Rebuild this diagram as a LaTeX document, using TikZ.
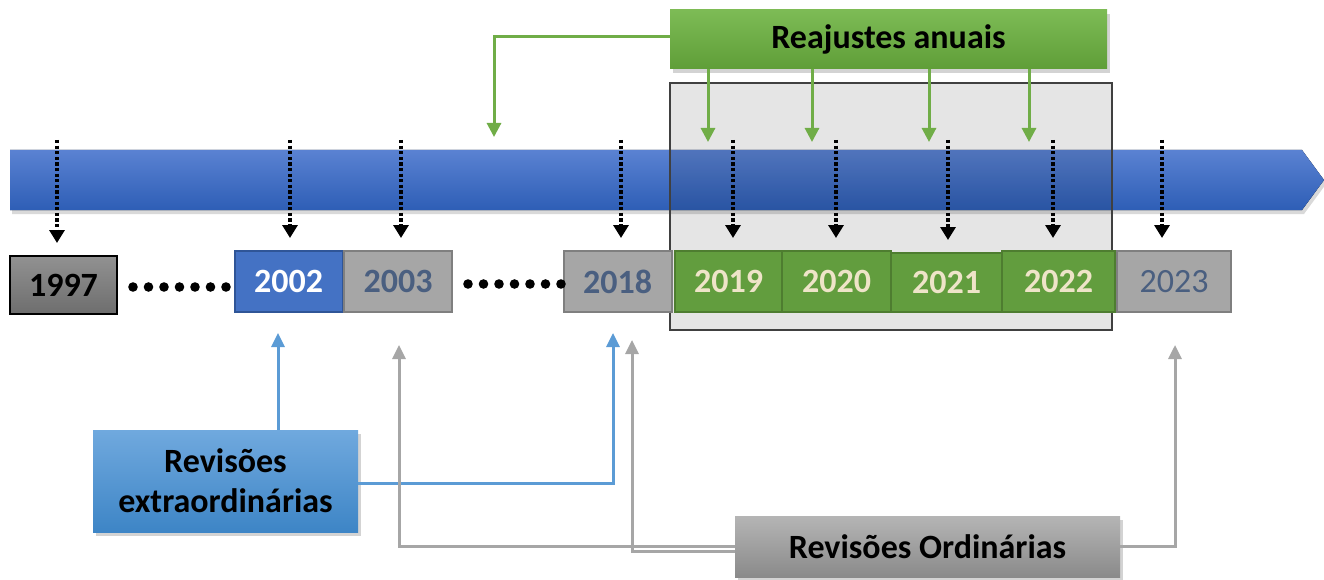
\documentclass[tikz,border=0pt]{standalone}
\usepackage{fontspec}
\setmainfont{Carlito}
\usetikzlibrary{arrows.meta,shadows,calc}
\definecolor{bandA}{HTML}{5A82D2}
\definecolor{bandB}{HTML}{2E5EB6}
\definecolor{yblue}{HTML}{4472C4}
\definecolor{yblueD}{HTML}{2F5597}
\definecolor{ygray}{HTML}{A6A6A6}
\definecolor{ygrayD}{HTML}{7F7F7F}
\definecolor{slate}{HTML}{4A5F80}
\definecolor{ygreen}{HTML}{629D3E}
\definecolor{ygreenD}{HTML}{4E7D30}
\definecolor{cream}{HTML}{EEE4C8}
\definecolor{greenA}{HTML}{7DBB55}
\definecolor{greenB}{HTML}{5F9E38}
\definecolor{garrow}{HTML}{70AD47}
\definecolor{lblueA}{HTML}{70A9DE}
\definecolor{lblueB}{HTML}{3D85C6}
\definecolor{barrow}{HTML}{5B9BD5}
\definecolor{grayA}{HTML}{B5B5B5}
\definecolor{grayB}{HTML}{8A8A8A}
\definecolor{garr}{HTML}{A6A6A6}
\tikzset{
  yrbox/.style={draw, line width=2pt, minimum width=108pt, minimum height=61pt, inner sep=0pt,
    font=\fontsize{34}{34}\selectfont\bfseries},
  grayyr/.style={yrbox, fill=ygray, draw=ygrayD, text=slate},
  greenyr/.style={yrbox, fill=ygreen, draw=ygreenD, text=cream},
  dotarrow/.style={line width=3.2pt, dash pattern=on 3.2pt off 2.4pt, -{Triangle[width=15pt,length=13pt]}},
  garw/.style={draw=garrow, line width=3pt, -{Triangle[width=14pt,length=14pt,fill=garrow]}},
  barw/.style={draw=barrow, line width=3pt, -{Triangle[width=13pt,length=14pt,fill=barrow]}},
  grw/.style={draw=garr, line width=3pt, -{Triangle[width=13pt,length=14pt,fill=garr]}},
  lbl/.style={inner sep=0pt, font=\fontsize{34}{40}\selectfont\bfseries, align=center,
    drop shadow={opacity=0.35, shadow xshift=3pt, shadow yshift=-4pt}},
}
\begin{document}
\begin{tikzpicture}[x=1pt,y=-1pt]
\useasboundingbox (0,0) rectangle (1324,580);
% timeline band
\fill[top color=bandA, bottom color=bandB, drop shadow={opacity=0.3, shadow xshift=2pt, shadow yshift=-4pt}]
  (10,150) -- (1302,150) -- (1324,180) -- (1302,210) -- (10,210) -- cycle;
% translucent highlight
\draw[fill=black, fill opacity=0.1, draw=black!75, line width=1.6pt] (670,83) rectangle (1112,330);
% year boxes
\node[yrbox, draw=black, top color=black!43, bottom color=black!57, text=black, minimum width=107pt, minimum height=58pt] (y1997) at (63.5,285) {1997};
\node[yrbox, fill=yblue, draw=yblueD, text=white] (y2002) at (288.5,281.5) {2002};
\node[grayyr] (y2003) at (398,281.5) {2003};
\node[grayyr] (y2018) at (617.5,281.5) {2018};
\node[greenyr, minimum width=107pt] (y2019) at (728.5,281.5) {2019};
\node[greenyr, minimum width=109pt] (y2020) at (836.5,281.5) {2020};
\node[greenyr, minimum width=111pt, minimum height=59pt] (y2021) at (946.5,282.5) {2021};
\node[greenyr, minimum width=113pt] (y2022) at (1058.5,281.5) {2022};
\node[grayyr, minimum width=114pt, font=\fontsize{34}{34}\selectfont] (y2023) at (1174,281.5) {2023};
% ellipsis dots
\foreach \x in {133,148.5,164,179.5,195,210.5,226} \fill (\x,287) circle (4.8);
\foreach \x in {468,483.5,499,514.5,530,545.5,561} \fill (\x,284) circle (4.8);
% dotted arrows
\foreach \n/\x in {y1997/57,y2002/290,y2003/401,y2018/621,y2019/733,y2020/836,y2021/948,y2022/1053,y2023/1162}{
  \coordinate (t\n) at (\x,140);
  \draw[dotarrow] (t\n) -- ([yshift=12pt]t\n |- \n.north);
}
% Reajustes anuais
\node[lbl, minimum width=437pt, minimum height=59pt, top color=greenA, bottom color=greenB] (rea) at (888.5,39.5) {Reajustes anuais};
\coordinate (g0) at (494,137);
\coordinate (g1) at (708,142);
\coordinate (g2) at (812,142);
\coordinate (g3) at (929,142);
\coordinate (g4) at (1029,142);
\draw[garw] ([yshift=3pt]rea.west) -| (g0);
\foreach \g in {g1,g2,g3,g4} \draw[garw] (rea.south -| \g) -- (\g);
% Revisões extraordinárias
\node[lbl, minimum width=265pt, minimum height=102pt, top color=lblueA, bottom color=lblueB] (rex) at (225.5,481) {Revisões\\extraordinárias};
\coordinate (b1) at (278,333);
\coordinate (b2) at (613,333);
\draw[barw] (rex.north -| b1) -- (b1);
\draw[barw] ([yshift=-2pt]rex.east) -| (b2);
% Revisões Ordinárias
\node[lbl, minimum width=385pt, minimum height=61pt, top color=grayA, bottom color=grayB] (rord) at (927.5,546.5) {Revisões Ordinárias};
\coordinate (o1) at (399,345);
\coordinate (o2) at (632,340);
\coordinate (o3) at (1175,345);
\draw[grw] (rord.west) -| (o1);
\draw[grw] ([yshift=-5pt]rord.west) -| (o2);
\draw[grw] (rord.east) -| (o3);
\end{tikzpicture}
\end{document}
